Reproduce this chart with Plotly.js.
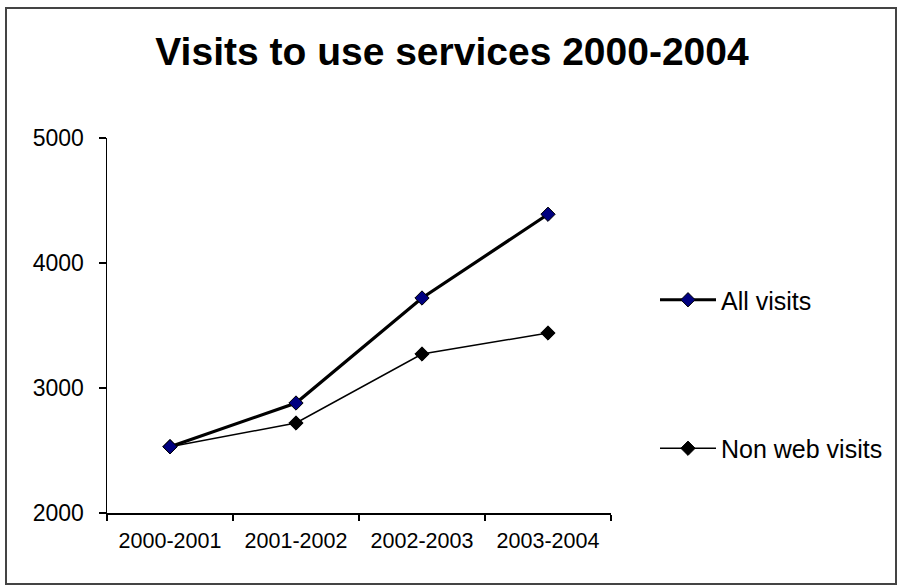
<!DOCTYPE html>
<html>
<head>
<meta charset="utf-8">
<script src="https://cdn.plot.ly/plotly-3.0.1.min.js"></script>
<style>
html,body{margin:0;padding:0;background:#fff;}
#wrap{position:relative;width:898px;height:587px;}
#chart{width:898px;height:587px;}
#frame{position:absolute;left:5px;top:7px;width:888px;height:574px;border:2px solid #444;pointer-events:none;}
</style>
</head>
<body>
<div id="wrap"><div id="chart"></div><div id="frame"></div></div>
<script>
var categories = ["2000-2001", "2001-2002", "2002-2003", "2003-2004"];
var allVisits = [2530, 2880, 3720, 4390];
var nonWebVisits = [2530, 2720, 3272, 3440];
var yTicks = [2000, 3000, 4000, 5000];

var font = "Liberation Sans, Arial, sans-serif";

var traces = [
  {
    x: categories, y: nonWebVisits, name: "Non web visits", type: "scatter", mode: "lines+markers",
    line: {color: "#000000", width: 1.5},
    marker: {symbol: "diamond", size: 11, color: "#000000", line: {color: "#000000", width: 1}},
    legendgroup: "b", legendrank: 2
  },
  {
    x: categories, y: allVisits, name: "All visits", type: "scatter", mode: "lines+markers",
    line: {color: "#000000", width: 3.2},
    marker: {symbol: "diamond", size: 11, color: "#000080", line: {color: "#000000", width: 1}},
    legendgroup: "a", legendrank: 1
  }
];

var layout = {
  width: 898, height: 587,
  paper_bgcolor: "#ffffff", plot_bgcolor: "#ffffff",
  margin: {l: 107, r: 287, t: 138, b: 74},
  title: {
    text: "<b>Visits to use services 2000-2004</b>",
    font: {family: font, size: 39, color: "#000000"},
    x: 452/898, xanchor: "center", xref: "container",
    y: 1 - 51/587, yanchor: "middle", yref: "container"
  },
  xaxis: {
    type: "category", range: [-0.5, 3.5], tickson: "boundaries",
    ticks: "outside", ticklen: 6, tickwidth: 1.5, tickcolor: "#000",
    showline: true, linecolor: "#000", linewidth: 1.5,
    showgrid: false, zeroline: false,
    tickfont: {family: font, size: 21.5, color: "#000"},
    ticklabelstandoff: 8
  },
  yaxis: {
    range: [2000, 5000], tickvals: yTicks, ticktext: yTicks.map(String),
    ticks: "outside", ticklen: 7, tickwidth: 1.5, tickcolor: "#000",
    showline: true, linecolor: "#000", linewidth: 1.5,
    showgrid: false, zeroline: false,
    tickfont: {family: font, size: 23, color: "#000"},
    ticklabelstandoff: 10
  },
  showlegend: true,
  legend: {
    x: 655/898, xref: "container", xanchor: "left",
    y: 1 - 277/587, yref: "container", yanchor: "top",
    font: {family: font, size: 25, color: "#000"},
    traceorder: "grouped", tracegroupgap: 113,
    itemwidth: 56, bgcolor: "rgba(0,0,0,0)", borderwidth: 0
  }
};

Plotly.newPlot("chart", traces, layout, {displayModeBar: false, staticPlot: true});
</script>
</body>
</html>
